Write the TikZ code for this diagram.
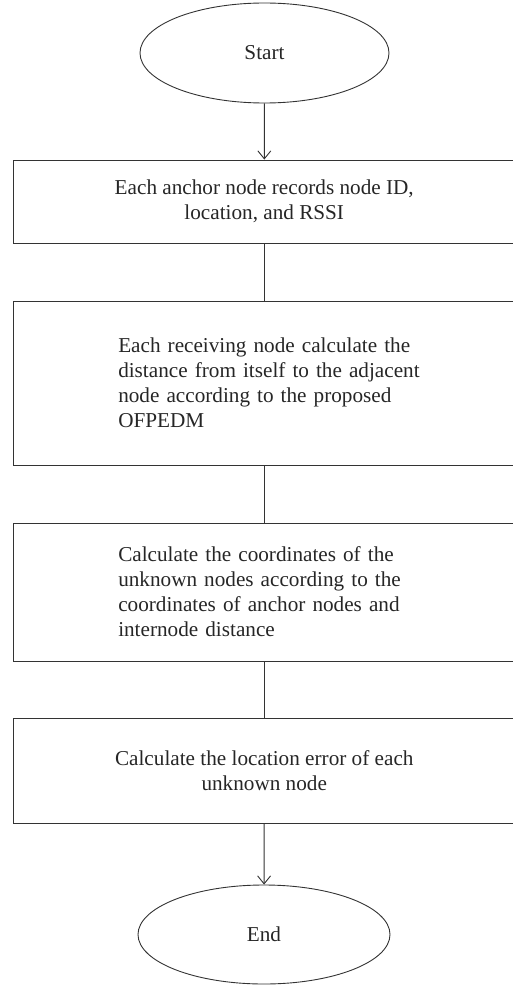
\documentclass[tikz,border=0pt]{standalone}
\usepackage{fontspec}
\setmainfont{Liberation Serif}
\usetikzlibrary{arrows.meta,shapes.geometric}
\begin{document}
\begin{tikzpicture}[x=1pt,y=-1pt,
  every node/.style={font=\fontsize{21.2}{25}\selectfont, text=black!85},
  termnode/.style={draw=black!80, line width=0.9pt, ellipse, inner sep=0pt},
  procbox/.style={draw=black!80, line width=0.9pt, rectangle, inner sep=0pt, minimum width=502.5pt},
  leftbox/.style={procbox, text width=292pt, align=left, execute at begin node={\hfuzz=50pt}},
  conn/.style={draw=black!80, line width=0.9pt},
  arr/.style={conn, -{Straight Barb[length=8pt,width=13pt,line width=0.9pt]}}
]
\useasboundingbox (0,0) rectangle (513,987);
\node[termnode, minimum width=249pt, minimum height=100pt] (start) at (264.5,53) {Start};
\node[procbox, minimum height=83pt, align=center] (b1) at (264.25,201.5)
  {Each anchor node records node ID,\\ location, and RSSI};
\node[leftbox, minimum height=164pt] (b2) at (264.25,383)
  {\mbox{Each receiving node calculate the}\\ \mbox{distance from itself to the adjacent}\\ \mbox{node according to the proposed}\\ OFPEDM};
\node[leftbox, minimum height=138pt] (b3) at (264.25,592)
  {\mbox{Calculate the coordinates of the}\\ \mbox{unknown nodes according to the}\\ \mbox{coordinates of anchor nodes and}\\ \mbox{internode distance}};
\node[procbox, minimum height=105pt, align=center] (b4) at (264.25,770.5)
  {Calculate the location error of each\\ unknown node};
\node[termnode, minimum width=252pt, minimum height=99pt] (end) at (264,934.5) {End};
\draw[arr] (start) -- (b1);
\draw[conn] (b1) -- (b2);
\draw[conn] (b2) -- (b3);
\draw[conn] (b3) -- (b4);
\draw[arr] (b4) -- (end);
\end{tikzpicture}
\end{document}
